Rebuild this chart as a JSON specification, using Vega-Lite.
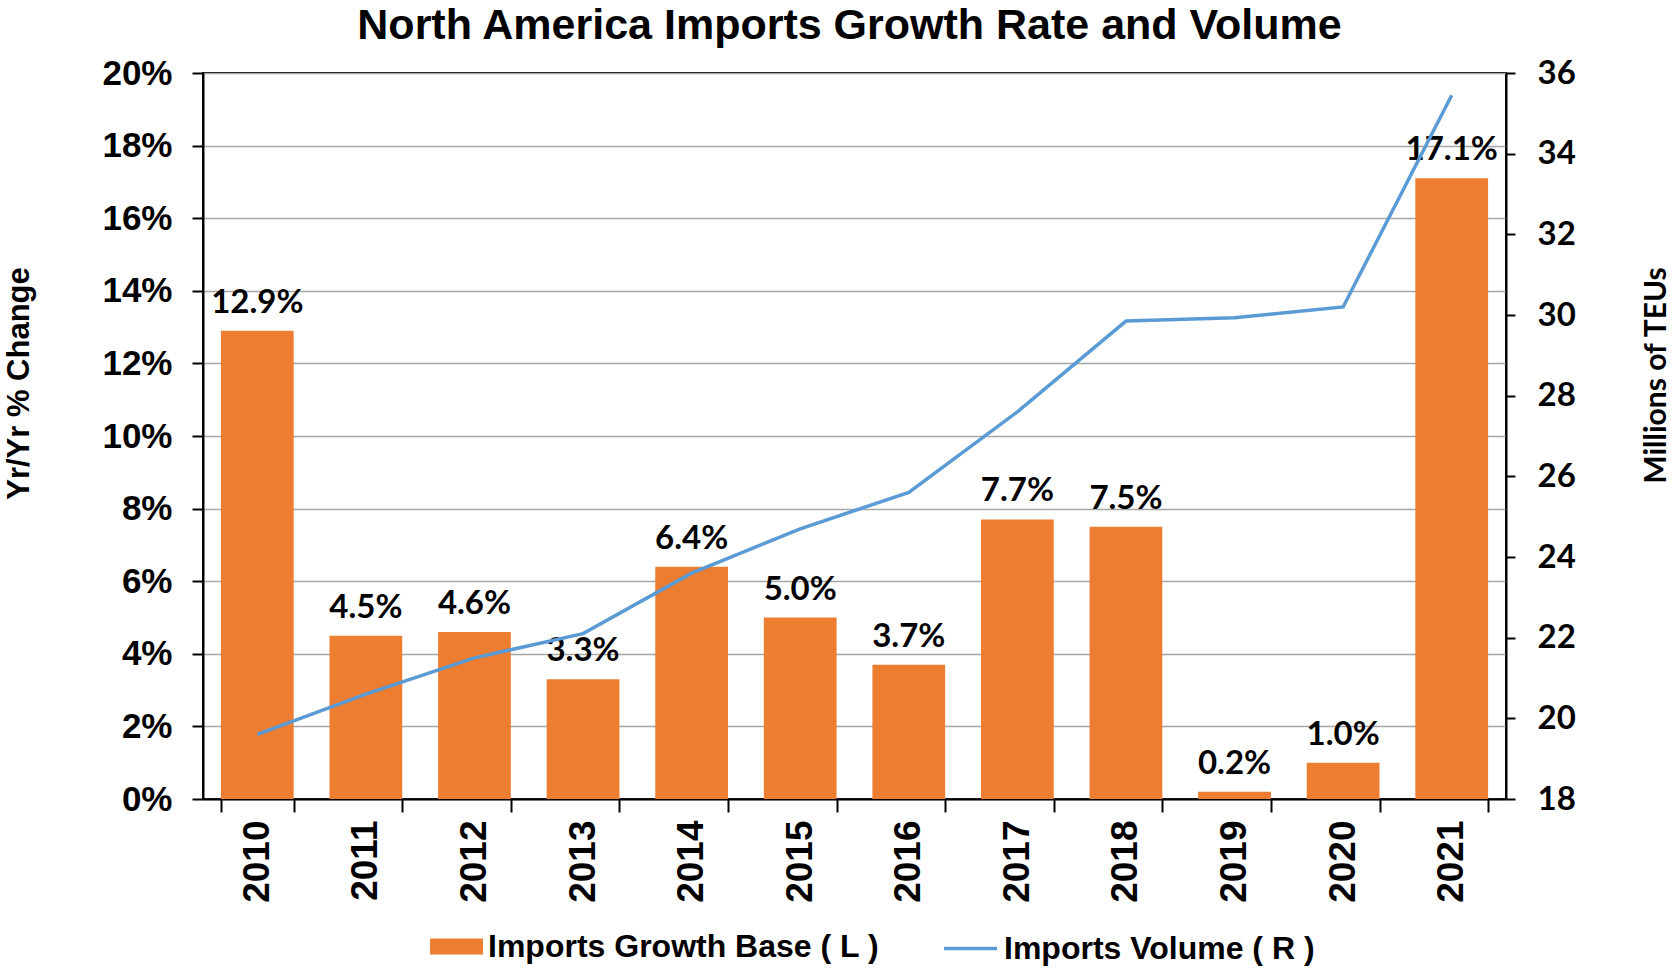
{
  "$schema": "https://vega.github.io/schema/vega-lite/v6.json",
  "width": 1303,
  "height": 726,
  "autosize": "none",
  "padding": {"left": 203, "top": 73, "right": 169, "bottom": 169},
  "background": "white",
  "config": {
    "view": {"stroke": "black", "strokeWidth": 2},
    "axis": {"labelColor": "black", "titleColor": "black", "domainColor": "black", "tickColor": "black"}
  },
  "title": {
    "text": "North America Imports Growth Rate and Volume",
    "font": "Liberation Sans",
    "fontSize": 43,
    "fontWeight": "bold",
    "color": "black",
    "anchor": "middle",
    "frame": "group",
    "dx": -5,
    "offset": 8
  },
  "data": {
    "values": [
      {"year": "2010", "growth": 0.129, "volume": 19.6},
      {"year": "2011", "growth": 0.045, "volume": 20.6},
      {"year": "2012", "growth": 0.046, "volume": 21.5},
      {"year": "2013", "growth": 0.033, "volume": 22.1},
      {"year": "2014", "growth": 0.064, "volume": 23.6},
      {"year": "2015", "growth": 0.050, "volume": 24.7},
      {"year": "2016", "growth": 0.037, "volume": 25.6},
      {"year": "2017", "growth": 0.077, "volume": 27.6},
      {"year": "2018", "growth": 0.075, "volume": 29.85},
      {"year": "2019", "growth": 0.002, "volume": 29.93},
      {"year": "2020", "growth": 0.010, "volume": 30.2},
      {"year": "2021", "growth": 0.171, "volume": 35.45}
    ]
  },
  "encoding": {
    "x": {
      "field": "year",
      "type": "ordinal",
      "scale": {"paddingInner": 0.33, "paddingOuter": 0.165},
      "axis": {
        "title": null,
        "tickBand": "extent",
        "tickSize": 13,
        "tickWidth": 2,
        "domainWidth": 2,
        "labelAngle": -90,
        "labelAlign": "right",
        "labelBaseline": "middle",
        "labelPadding": 8,
        "labelFont": "Liberation Sans",
        "labelFontWeight": "bold",
        "labelFontSize": 37
      }
    }
  },
  "layer": [
    {
      "encoding": {
        "y": {
          "field": "growth",
          "type": "quantitative",
          "scale": {"domain": [0, 0.2], "nice": false},
          "axis": {
            "title": "Yr/Yr % Change",
            "values": [0, 0.02, 0.04, 0.06, 0.08, 0.1, 0.12, 0.14, 0.16, 0.18, 0.2],
            "format": ".0%",
            "grid": true,
            "gridColor": "#A6A6A6",
            "gridWidth": 1.5,
            "tickSize": 11,
            "tickWidth": 2,
            "domainWidth": 2,
            "labelPadding": 20,
            "labelFont": "Liberation Sans",
            "labelFontWeight": "bold",
            "labelFontSize": 35,
            "titleFont": "Liberation Sans",
            "titleFontWeight": "bold",
            "titleFontSize": 31,
            "titleAngle": -90,
            "titleAlign": "center",
            "titleBaseline": "middle",
            "titleX": -184,
            "titleY": 310
          }
        }
      },
      "layer": [
        {
          "mark": {"type": "bar"},
          "encoding": {
            "fill": {
              "datum": "Imports Growth Base ( L )",
              "type": "nominal",
              "scale": {"range": ["#ED7D31"]},
              "legend": {
                "title": null,
                "orient": "none",
                "legendX": 227,
                "legendY": 847,
                "padding": 0,
                "symbolType": "M-1,-0.3H1V0.3H-1Z",
                "symbolSize": 2809,
                "symbolStrokeWidth": 0,
                "labelOffset": 5,
                "labelFont": "Liberation Sans",
                "labelFontWeight": "bold",
                "labelFontSize": 32,
                "labelColor": "black",
                "labelLimit": 600
              }
            }
          }
        },
        {
          "mark": {"type": "text", "baseline": "alphabetic", "dy": -18, "font": "Lato", "fontWeight": "bold", "fontSize": 33, "color": "black"},
          "encoding": {
            "text": {"field": "growth", "type": "quantitative", "format": ".1%"}
          }
        }
      ]
    },
    {
      "mark": {"type": "line", "strokeWidth": 3.5},
      "encoding": {
        "y": {
          "field": "volume",
          "type": "quantitative",
          "scale": {"domain": [18, 36], "nice": false, "zero": false},
          "axis": {
            "orient": "right",
            "title": "Millions of TEUs",
            "values": [18, 20, 22, 24, 26, 28, 30, 32, 34, 36],
            "grid": false,
            "tickSize": 9,
            "tickWidth": 2,
            "domainWidth": 2,
            "labelPadding": 22,
            "labelFont": "Lato",
            "labelFontWeight": "bold",
            "labelFontSize": 33,
            "titleFont": "Lato",
            "titleFontWeight": "bold",
            "titleFontSize": 30,
            "titleAngle": -90,
            "titleAlign": "center",
            "titleBaseline": "middle",
            "titleX": 150,
            "titleY": 302
          }
        },
        "stroke": {
          "datum": "Imports Volume ( R )",
          "type": "nominal",
          "scale": {"range": ["#5B9BD5"]},
          "legend": {
            "title": null,
            "orient": "none",
            "legendX": 739,
            "legendY": 847,
            "padding": 0,
            "symbolType": "stroke",
            "symbolSize": 2809,
            "symbolStrokeWidth": 3.5,
            "labelOffset": 5,
            "labelFont": "Liberation Sans",
            "labelFontWeight": "bold",
            "labelFontSize": 32,
            "labelColor": "black",
            "labelLimit": 600
          }
        }
      }
    }
  ],
  "resolve": {"scale": {"y": "independent", "fill": "independent", "stroke": "independent"}}
}
